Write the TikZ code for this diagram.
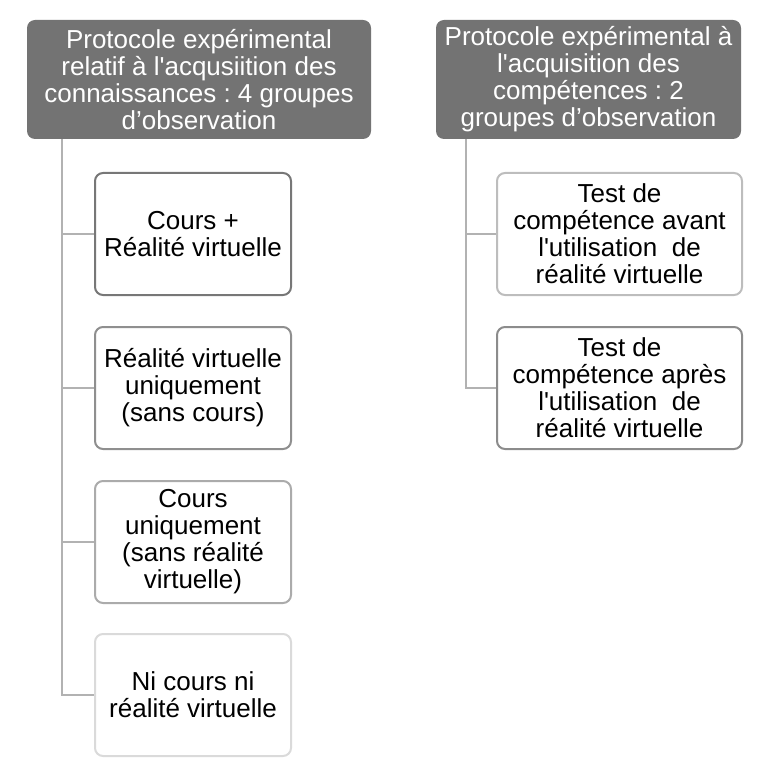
\documentclass[tikz,border=0pt]{standalone}
\usepackage{fontspec}
\setmainfont{Liberation Sans}
\frenchspacing
\newcommand{\sq}{\textquotesingle}
\definecolor{hdr}{HTML}{737373}
\definecolor{ln}{HTML}{B2B2B2}
\definecolor{bA}{HTML}{777777}
\definecolor{bB}{HTML}{8F8F8F}
\definecolor{bC}{HTML}{ABABAB}
\definecolor{bD}{HTML}{DADADA}
\definecolor{bE}{HTML}{BDBDBD}
\definecolor{bF}{HTML}{8C8C8C}
\begin{document}
\begin{tikzpicture}[x=1pt,y=-1pt,
  txt/.style={font=\fontsize{26}{27}\selectfont, align=center, inner sep=0pt},
  hdrbox/.style={txt, fill=hdr, text=white, rounded corners=8pt},
  itembox/.style={txt, fill=white, line width=2pt, rounded corners=8pt, text=black},
  conn/.style={draw=ln, line width=2pt}]
\useasboundingbox (0,0) rectangle (769,775);
% headers
\node[hdrbox, minimum width=344pt, minimum height=119pt] (h1) at (199,79.5)
  {Protocole expérimental\\relatif à l\sq acqusiition des\\connaissances : 4 groupes\\d’observation};
\node[hdrbox, minimum width=305pt, minimum height=119pt] (h2) at (588.5,79.5)
  {Protocole expérimental à\\l\sq acquisition des\\compétences : 2\\groupes d’observation};
% left items
\node[itembox, draw=bA, minimum width=196pt, minimum height=122pt] (a1) at (193,234) {Cours +\\Réalité virtuelle};
\node[itembox, draw=bB, minimum width=196pt, minimum height=122pt] (a2) at (193,388) {Réalité virtuelle\\uniquement\\(sans cours)};
\node[itembox, draw=bC, minimum width=196pt, minimum height=122pt] (a3) at (193,542) {Cours\\uniquement\\(sans réalité\\virtuelle)};
\node[itembox, draw=bD, minimum width=196pt, minimum height=122pt] (a4) at (193,695) {Ni cours ni\\réalité virtuelle};
% right items
\node[itembox, draw=bE, minimum width=245pt, minimum height=122pt] (b1) at (619.5,234) {Test de\\compétence avant\\l\sq utilisation\ \ de\\réalité virtuelle};
\node[itembox, draw=bF, minimum width=245pt, minimum height=122pt] (b2) at (619.5,388) {Test de\\compétence après\\l\sq utilisation\ \ de\\réalité virtuelle};
% connectors
\coordinate (lt) at (62,139);
\coordinate (rt) at (466,139);
\draw[conn] (lt) |- (a1.west);
\draw[conn] (lt) |- (a2.west);
\draw[conn] (lt) |- (a3.west);
\draw[conn] (lt) |- (a4.west);
\draw[conn] (rt) |- (b1.west);
\draw[conn] (rt) |- (b2.west);
\end{tikzpicture}
\end{document}
